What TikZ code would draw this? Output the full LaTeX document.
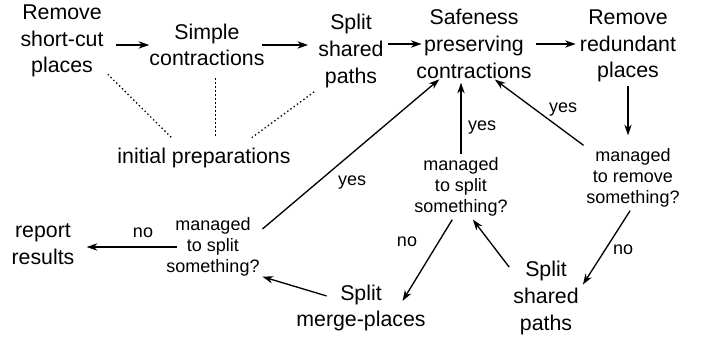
\documentclass[tikz,border=0pt]{standalone}
\usepackage{fontspec}
\setmainfont{Liberation Sans}
\usetikzlibrary{arrows.meta}
\begin{document}
\begin{tikzpicture}[x=0.75pt,y=0.75pt,yscale=-1,xscale=1,
  big/.style={align=center,inner sep=3pt,font=\fontsize{16}{20}\selectfont},
  small/.style={align=center,inner sep=2pt,font=\fontsize{13.5}{16}\selectfont},
  arr/.style={line width=1pt,-{Stealth[length=8pt,width=5.5pt,inset=2.5pt]}},
  prep/.style={line width=1pt,dotted}]
\path[use as bounding box] (0,0) rectangle (702,341);

% Text Node
\node[big] (rsc) at (62,41) {Remove\\short-cut\\places};
% Text Node
\node[big] (sc) at (207,45) {Simple\\contractions};
% Text Node
\node[big] (ssp) at (351,51) {Split\\shared\\paths};
% Text Node
\node[big] (spc) at (474,44) {Safeness\\preserving\\contractions};
% Text Node
\node[big] (rrp) at (628,46) {Remove\\redundant\\places};
% Text Node
\node[big,inner sep=7.5pt] (ip) at (204,158) {initial preparations};
% Text Node
\node[small] (dl) at (213,247) {managed\\to split\\something?};
% Text Node
\node[big] (rr) at (43,244) {report\\results};
% Text Node
\node[big] (smp) at (361,308) {Split\\merge-places};
% Text Node
\node[small] (dm) at (461,187) {managed\\to split\\something?};
% Text Node
\node[big] (ssb) at (546,298) {Split\\shared\\paths};
% Text Node
\node[small] (dr) at (633,178) {managed\\to remove\\something?};

% Text Node
\node[small] (yl) at (352,183) {yes};
\node[small] (ym) at (482,128) {yes};
\node[small] (yr) at (563,110) {yes};
\node[small] (nl) at (143,233) {no};
\node[small] (nm) at (407,242) {no};
\node[small] (nr) at (623,250) {no};

%Straight Lines
\draw[arr,shorten <=6pt,shorten >=-3pt] (rsc.east |- sc) -- (sc.west);
\draw[arr,shorten <=-5pt,shorten >=4.5pt] (sc.east) -- (sc.east -| ssp.west);
\draw[arr,shorten >=-7pt] (spc.west -| ssp.east) -- (spc.west);
\draw[arr] (spc.east) -- (spc.east -| rrp.west);
\draw[arr,shorten >=7.5pt] (rrp.south) -- (rrp.south |- dr.north);
\draw[arr,shorten >=-4pt] (dr.north west) -- (spc.-57);
\draw[arr] (dm.north) -- (dm.north |- spc.south);
\draw[arr,shorten >=-4pt] (dl.20) -- (spc.-135);
\draw[arr,shorten >=-18pt] (dm.-105) -- (smp.27);
\draw[arr] (ssb.140) -- (dm.-70);
\draw[arr] (dr.-95) -- (ssb.20);
\draw[arr,shorten <=-27pt] (smp.162.5) -- (dl.-31);
\draw[arr,shorten <=-10pt,shorten >=6pt] (dl.west) -- (dl.west -| rr.east);

%Dotted Lines
\draw[prep] (rsc.-36) -- (ip.148);
\draw[prep,shorten <=6pt] (ip.60 |- sc.south) -- (ip.60);
\draw[prep] (ssp.south west) -- (ip.23);
\end{tikzpicture}
\end{document}
